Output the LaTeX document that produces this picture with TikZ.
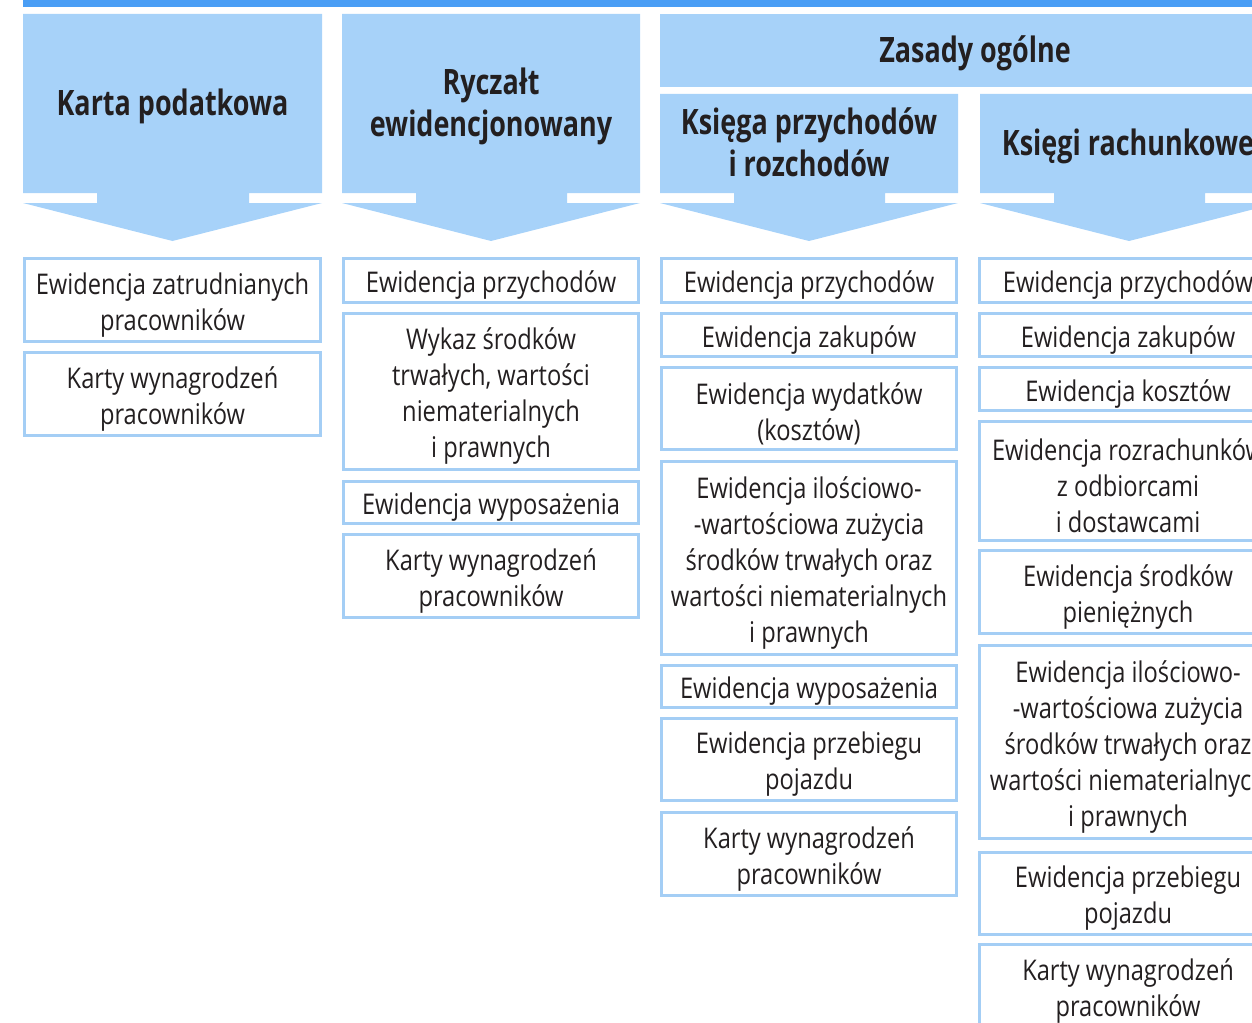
\documentclass[tikz,border=0pt]{standalone}
\usepackage{fontspec}
\setmainfont[FakeStretch=0.83]{Open Sans}
\newfontfamily\hdrfont[FakeStretch=0.77]{Open Sans}
\definecolor{hdr}{HTML}{A7D2F9}
\definecolor{brd}{HTML}{A4CEF5}
\definecolor{bar}{HTML}{4A9EF5}
\definecolor{ink}{HTML}{231F20}
\tikzset{
 box/.style={draw=brd, line width=3pt, fill=white, inner sep=0pt},
 boxtext/.style={align=center, inner sep=0pt, text=ink, font=\fontsize{28.5}{36}\selectfont},
 hdrtext/.style={align=center, text=ink, font=\hdrfont\fontsize{35}{42}\selectfont\bfseries},
}
\newcommand\hdrarrow[3]{%
 \fill[hdr] (#1,#3) -- (#2,#3) -- (#2,193) -- ({#2-73},193) -- ({#2-73},203) -- (#2,203) -- ({(#1+#2)/2},241) -- (#1,203) -- ({#1+74},203) -- ({#1+74},193) -- (#1,193) -- cycle;}
\newcommand\bx[6]{%
 \pgfmathsetmacro\bxcx{(#2+#4)/2}%
 \pgfmathsetmacro\bxcy{(#3+#5)/2}%
 \pgfmathsetmacro\bxty{(#3+#5)/2+5}%
 \pgfmathsetmacro\bxw{#4-#2-3}%
 \pgfmathsetmacro\bxh{#5-#3-3}%
 \node[box, minimum width=\bxw pt, minimum height=\bxh pt] (#1) at (\bxcx,\bxcy) {};
 \node[boxtext] (#1t) at (\bxcx,\bxty) {#6};}
\begin{document}
\begin{tikzpicture}[x=1pt,y=-1pt]
\useasboundingbox (0,0) rectangle (1252,1022);
\clip (0,0) rectangle (1252,1022);
\fill[bar] (23,0) rectangle (1252,7);
% headers
\hdrarrow{23}{322}{14}
\hdrarrow{342}{640}{14}
\fill[hdr] (660,14) rectangle (1290,87);
\hdrarrow{660}{958}{94}
\hdrarrow{980}{1278}{94}
\node[hdrtext] (karta) at (172.5,106) {Karta podatkowa};
\node[hdrtext] (rycz) at (491,106) {Ryczałt\\ewidencjonowany};
\node[hdrtext] (zasady) at (975,53) {Zasady ogólne};
\node[hdrtext] (ksiega) at (809,142) {Księga przychodów\\i rozchodów};
\node[hdrtext] (ksiegi) at (1128,146) {Księgi rachunkowe};
% column 1
\bx{a1}{23}{257}{322}{343}{Ewidencja zatrudnianych\\pracowników}
\bx{a2}{23}{351}{322}{437}{Karty wynagrodzeń\\pracowników}
% column 2
\bx{b1}{342}{257}{640}{304}{Ewidencja przychodów}
\bx{b2}{342}{312}{640}{471}{Wykaz środków\\trwałych, wartości\\niematerialnych\\i prawnych}
\bx{b3}{342}{480}{640}{525}{Ewidencja wyposażenia}
\bx{b4}{342}{533}{640}{619}{Karty wynagrodzeń\\pracowników}
% column 3
\bx{c1}{660}{257}{958}{304}{Ewidencja przychodów}
\bx{c2}{660}{312}{958}{358}{Ewidencja zakupów}
\bx{c3}{660}{366}{958}{451}{Ewidencja wydatków\\(kosztów)}
\bx{c4}{660}{460}{958}{656}{Ewidencja ilościowo-\\-wartościowa zużycia\\środków trwałych oraz\\wartości niematerialnych\\i prawnych}
\bx{c5}{660}{664}{958}{709}{Ewidencja wyposażenia}
\bx{c6}{660}{717}{958}{802}{Ewidencja przebiegu\\pojazdu}
\bx{c7}{660}{811}{958}{897}{Karty wynagrodzeń\\pracowników}
% column 4
\bx{d1}{978}{257}{1278}{304}{Ewidencja przychodów}
\bx{d2}{978}{312}{1278}{358}{Ewidencja zakupów}
\bx{d3}{978}{366}{1278}{412}{Ewidencja kosztów}
\bx{d4}{978}{420}{1278}{542}{Ewidencja rozrachunków\\z odbiorcami\\i dostawcami}
\bx{d5}{978}{549}{1278}{635}{Ewidencja środków\\pieniężnych}
\bx{d6}{978}{644}{1278}{840}{Ewidencja ilościowo-\\-wartościowa zużycia\\środków trwałych oraz\\wartości niematerialnych\\i prawnych}
\bx{d7}{978}{851}{1278}{936}{Ewidencja przebiegu\\pojazdu}
\bx{d8}{978}{943}{1278}{1029}{Karty wynagrodzeń\\pracowników}
\end{tikzpicture}
\end{document}
